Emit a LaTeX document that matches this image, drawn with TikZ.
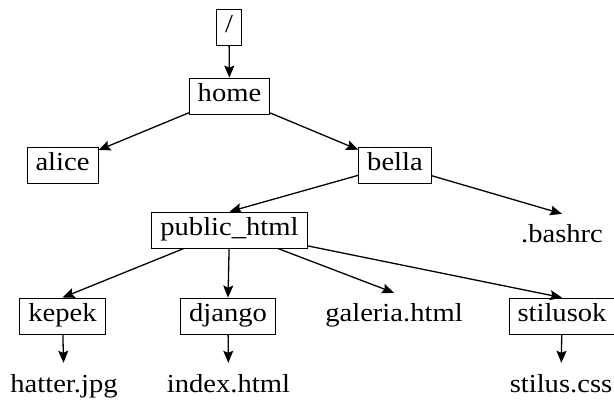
\documentclass[tikz,border=0pt]{standalone}
\usepackage{fontspec}
\setmainfont{Liberation Serif}[FakeStretch=1.1]
\usetikzlibrary{arrows.meta, positioning}

\begin{document}
\begin{tikzpicture}[
    x=1pt, y=-1pt,
    font=\fontsize{26}{31}\selectfont,
    % Node styles
    dir/.style={rectangle, draw, line width=0.8pt, inner xsep=8.5pt, inner ysep=6pt, text height=18pt, text depth=6pt},
    file/.style={rectangle, inner xsep=8.5pt, inner ysep=11pt, text height=18pt, text depth=6pt},
    arrow/.style={-{Stealth[length=12pt, width=10pt, inset=2pt]}, line width=1.3pt},
]
\useasboundingbox (0,0) rectangle (614,401);

% ============================================================================
% DIRECTORIES
% ============================================================================
\node[dir] (root) at (229, 27) {/};
\node[dir] (home) at (229.5, 96) {home};
\node[dir] (alice) at (62.5, 165) {alice};
\node[dir] (bella) at (395, 165) {bella};
\node[dir] (public) at (229.5, 230) {public\_html};
\node[dir] (kepek) at (62.5, 316) {kepek};
\node[dir] (django) at (228, 316) {django};
\node[dir] (stilusok) at (562, 316) {stilusok};

% ============================================================================
% FILES
% ============================================================================
\node[file] (bashrc) at (562, 237) {.bashrc};
\node[file] (galeria) at (394, 316) {galeria.html};
\node[file] (hatter) at (64, 386) {hatter.jpg};
\node[file] (index) at (228.5, 386) {index.html};
\node[file] (stilus) at (561, 386) {stilus.css};

% Edges
\draw[arrow] (root) -- (home);
\draw[arrow] (home) -- (alice);
\draw[arrow] (home) -- (bella);
\draw[arrow] (bella) -- (public.north);
\draw[arrow] (bella) -- (bashrc.north);
\foreach \child in {kepek, django, galeria, stilusok} {
    \draw[arrow] (public) -- (\child.north);
}
\foreach \dirname/\filename in {kepek/hatter, django/index, stilusok/stilus} {
    \draw[arrow] (\dirname) -- (\filename);
}

\end{tikzpicture}
\end{document}
